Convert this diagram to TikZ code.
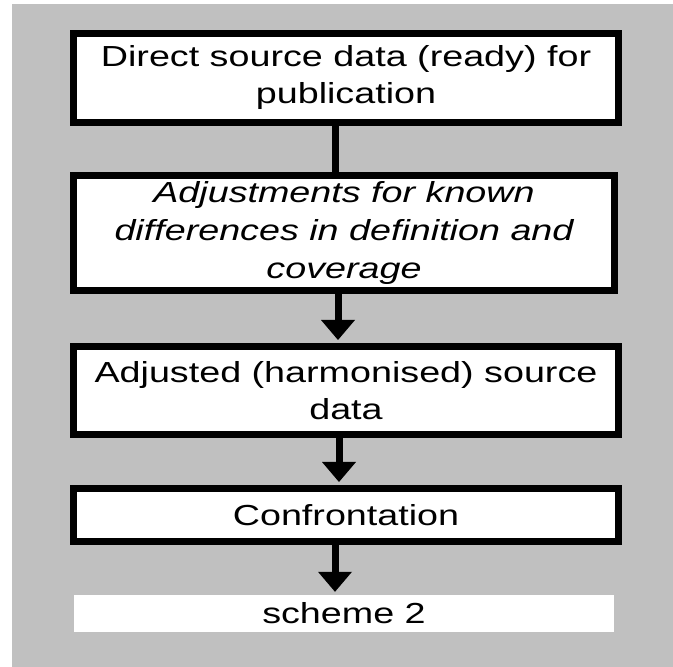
\documentclass[tikz,border=0pt]{standalone}
\usepackage{fontspec}
\setmainfont{Liberation Sans}
\usetikzlibrary{arrows.meta}
\definecolor{bggray}{RGB}{192,192,192}
\newcommand{\sx}[1]{\scalebox{1.3}[1]{#1}}
\tikzset{
  flowbox/.style={draw=black, fill=white, line width=7pt, inner sep=0pt,
    align=center, font=\fontsize{29}{37}\selectfont},
  plainbox/.style={fill=white, inner sep=0pt, align=center,
    font=\fontsize{29}{37}\selectfont},
  conn/.style={line width=7pt, draw=black},
  tip/.style={-{Triangle[width=34pt,length=20pt,line width=0pt]}, shorten >=3pt}
}
\begin{document}
\begin{tikzpicture}[x=1pt,y=1pt]
\useasboundingbox (0,0) rectangle (673,667);
\fill[bggray] (12,0) rectangle (673,663);
\node[flowbox, minimum width=545pt, minimum height=89pt] (b1) at (346,589)
  {\sx{Direct source data (ready) for}\\\sx{publication}};
\node[flowbox, minimum width=541pt, minimum height=115pt,
  font=\fontsize{29}{38}\selectfont\itshape] (b2) at (344,434)
  {\sx{Adjustments for known}\\\sx{differences in definition and}\\\sx{coverage}};
\node[flowbox, minimum width=545pt, minimum height=88pt] (b3) at (346,276.5)
  {\sx{Adjusted (harmonised) source}\\\sx{data}};
\node[flowbox, minimum width=545pt, minimum height=53pt] (b4) at (346,152)
  {\sx{Confrontation}};
\node[plainbox, minimum width=540pt, minimum height=37pt] (s2) at (344,53.5)
  {\sx{scheme 2}};
\draw[conn] ([xshift=-11pt]b1.south) -- ([xshift=-9pt]b2.north);
\draw[conn, tip] ([xshift=-6pt]b2.south) -- ([xshift=-8pt]b3.north);
\draw[conn, tip] ([xshift=-7pt]b3.south) -- ([xshift=-7pt]b4.north);
\draw[conn, tip] ([xshift=-11pt]b4.south) -- ([xshift=-9pt]s2.north);
\end{tikzpicture}
\end{document}
